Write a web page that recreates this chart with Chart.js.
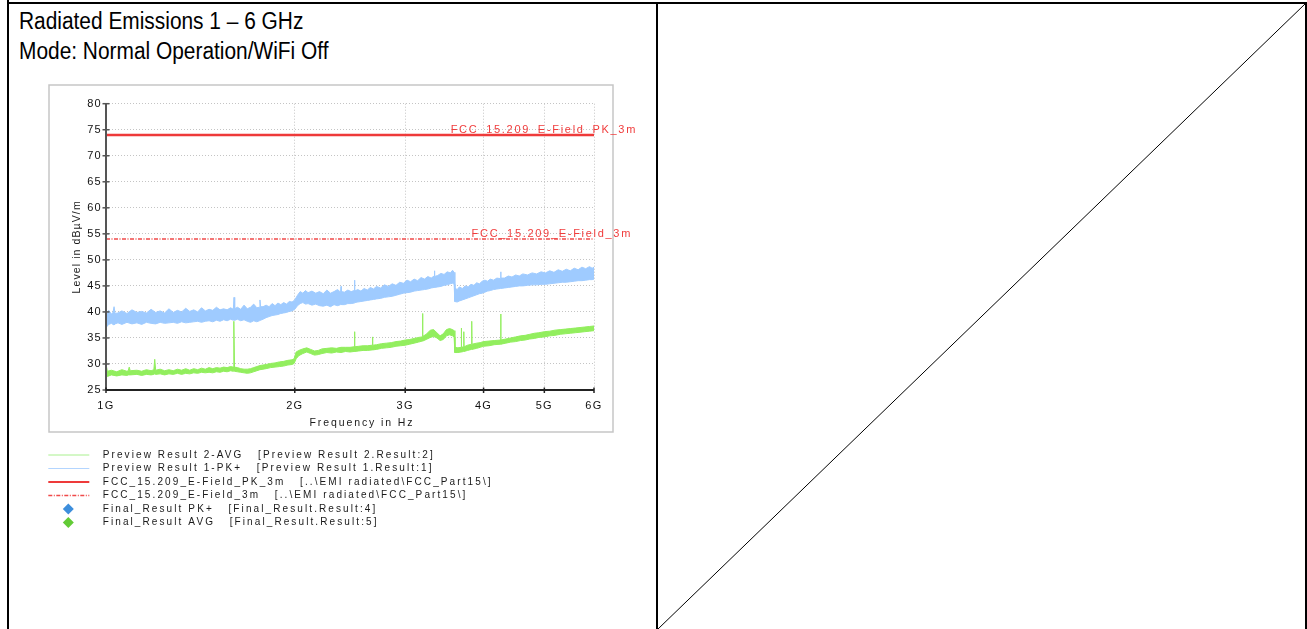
<!DOCTYPE html>
<html>
<head>
<meta charset="utf-8">
<title>Radiated Emissions 1 – 6 GHz</title>
<script src="https://cdn.jsdelivr.net/npm/chart.js@4.4.1/dist/chart.umd.min.js"></script>
<style>
  html, body { margin: 0; padding: 0; background: #fff; width: 1307px; height: 629px; overflow: hidden; }
  .rule { position: absolute; background: #000; }
  #title {
    position: absolute; left: 19px; top: 6px; color: #000; white-space: nowrap;
    font: 23px/30px "Liberation Sans", Arial, sans-serif;
    transform: scaleX(0.908); transform-origin: 0 0;
  }
  #plot { position: absolute; left: 40px; top: 80px; }
  #diag { position: absolute; left: 0; top: 0; }
</style>
</head>
<body>
<!-- page frame: two cells side by side -->
<div class="rule" style="left:7px;top:2px;width:1300px;height:2px"></div>
<div class="rule" style="left:7px;top:0;width:2px;height:629px"></div>
<div class="rule" style="left:656px;top:2px;width:2px;height:627px"></div>
<div class="rule" style="left:1305px;top:2px;width:2px;height:627px"></div>
<svg id="diag" width="1307" height="629"><line x1="658" y1="629" x2="1305" y2="4" stroke="#000" stroke-width="1"/></svg>

<div id="title">Radiated Emissions 1 – 6 GHz<br>Mode: Normal Operation/WiFi Off</div>
<canvas id="plot" width="610" height="460"></canvas>

<script>
// Frequency axis (MHz) ticks and labels
const xTickValues = [1000, 2000, 3000, 4000, 5000, 6000];
const xTickLabels = ['1G', '2G', '3G', '4G', '5G', '6G'];
const yMin = 25, yMax = 80, yStep = 2.5;
const xTitle = 'Frequency in Hz';
const yTitle = 'Level in dBµV/m';

// Preview Result 1-PK+ : [MHz, lower edge, upper edge] in dBµV/m
const pkTrace = [
  [1000,37.0,39.2],[1010,37.6,40.3],[1020,37.8,39.6],[1026,37.6,39.9],[1030,37.5,41.0],[1034,37.7,39.7],
  [1045,37.9,39.8],[1060,37.6,40.2],[1080,38.0,39.7],[1100,37.7,40.4],[1120,37.9,39.9],[1140,37.6,40.1],
  [1160,38.0,39.8],[1180,37.8,40.5],[1200,37.7,39.9],[1220,38.0,40.2],[1240,37.8,39.8],[1260,37.9,40.6],
  [1280,38.0,39.9],[1300,37.8,40.3],[1320,38.1,40.0],[1340,37.9,40.7],[1360,38.0,40.1],[1380,38.1,40.4],
  [1400,38.2,40.0],[1420,38.0,40.8],[1440,38.2,40.2],[1460,38.3,40.5],[1480,38.1,40.3],[1500,38.4,40.9],
  [1520,38.2,40.4],[1540,38.5,40.6],[1560,38.3,40.4],[1580,38.6,40.8],[1596,38.4,40.5],[1600,38.5,42.8],
  [1604,38.4,40.6],[1620,38.6,40.9],[1640,38.3,40.5],[1660,38.5,41.3],[1680,38.2,40.6],[1700,38.0,40.9],
  [1720,38.3,41.5],[1740,38.1,40.8],[1756,38.3,40.9],[1760,38.4,42.3],[1764,38.4,41.0],[1780,38.6,41.0],
  [1800,38.9,41.3],[1820,39.1,41.0],[1840,39.3,41.6],[1860,39.4,41.2],[1880,39.5,41.7],[1900,39.7,41.4],
  [1920,39.8,41.8],[1940,39.9,41.5],[1960,40.1,42.0],[1980,40.2,41.9],[2000,40.5,42.3],[2020,41.2,43.2],
  [2040,41.6,43.9],[2060,41.8,43.6],[2080,41.5,44.1],[2100,41.6,43.7],[2130,41.3,44.0],[2160,41.5,43.6],
  [2190,41.2,43.9],[2220,41.1,43.5],[2250,41.3,44.2],[2280,41.0,43.6],[2310,41.4,43.9],[2340,41.2,44.3],
  [2366,41.4,43.8],[2370,41.5,44.9],[2374,41.4,43.9],[2400,41.4,43.8],[2430,41.6,44.2],[2460,41.6,43.9],
  [2486,41.7,44.1],[2490,41.8,46.1],[2494,41.8,44.0],[2520,41.9,44.3],[2550,42.0,44.0],[2580,42.1,44.5],
  [2610,42.2,44.2],[2640,42.3,44.7],[2670,42.4,44.4],[2700,42.5,44.9],[2740,42.6,44.6],[2780,42.8,45.2],
  [2820,42.9,44.9],[2860,43.0,45.4],[2900,43.2,45.1],[2940,43.4,45.7],[2980,43.6,45.5],[3020,43.7,46.1],
  [3060,43.8,45.8],[3100,44.0,46.3],[3140,44.1,46.0],[3180,44.2,46.6],[3220,44.3,46.3],[3260,44.4,46.8],
  [3300,44.6,46.5],[3336,44.7,46.9],[3340,44.7,47.9],[3344,44.7,46.8],[3380,44.8,47.0],[3420,44.9,47.4],
  [3460,45.1,47.2],[3500,45.2,47.7],[3540,45.4,47.5],[3570,45.5,48.0],[3590,45.3,47.6],[3600,42.0,44.6],
  [3630,41.9,44.3],[3660,42.1,44.8],[3700,42.3,44.5],[3740,42.5,45.0],[3780,42.7,44.8],[3820,42.9,45.3],
  [3860,43.1,45.1],[3900,43.3,45.6],[3940,43.5,45.4],[3980,43.6,45.9],[4020,43.8,46.1],[4060,44.0,45.9],
  [4100,44.1,46.3],[4150,44.3,46.1],[4200,44.4,46.5],[4256,44.5,46.4],[4260,44.5,47.7],[4264,44.5,46.5],
  [4320,44.6,46.5],[4380,44.7,46.9],[4440,44.8,46.7],[4500,44.9,47.1],[4560,45.0,46.9],[4620,45.0,47.3],
  [4700,45.1,47.1],[4780,45.2,47.5],[4860,45.2,47.3],[4940,45.3,47.7],[5020,45.3,47.5],[5100,45.4,47.9],
  [5180,45.5,47.6],[5260,45.6,48.1],[5340,45.7,47.8],[5420,45.7,48.2],[5500,45.8,47.9],[5580,45.9,48.4],
  [5660,46.0,48.1],[5740,46.0,48.6],[5820,46.1,48.3],[5900,46.2,48.7],[5960,46.2,48.4],[6000,46.3,48.6]
];

// Preview Result 2-AVG : [MHz, lower edge, upper edge] in dBµV/m
const avgTrace = [
  [1000,27.8,30.0],[1005,27.6,28.6],[1020,27.9,28.8],[1040,27.7,28.5],[1060,27.9,28.9],[1080,27.8,28.6],
  [1085,27.9,28.7],[1089,27.9,29.4],[1093,27.9,28.7],[1120,28.0,28.8],[1140,27.8,28.6],[1160,28.0,28.9],
  [1180,27.9,28.7],[1192,28.0,28.9],[1196,28.1,30.9],[1200,28.0,28.8],[1220,28.1,29.0],[1240,27.9,28.7],
  [1260,28.1,28.9],[1280,28.0,28.7],[1300,28.2,29.0],[1320,28.0,28.8],[1340,28.2,29.1],[1360,28.1,28.8],
  [1380,28.3,29.1],[1400,28.2,28.9],[1420,28.4,29.2],[1440,28.3,29.0],[1460,28.4,29.3],[1480,28.3,29.1],
  [1500,28.5,29.3],[1520,28.4,29.2],[1540,28.6,29.4],[1560,28.5,29.3],[1580,28.7,29.5],[1595,28.6,29.4],
  [1599,28.7,38.2],[1603,28.6,29.4],[1620,28.5,29.3],[1640,28.4,29.1],[1660,28.3,29.0],[1680,28.2,29.0],
  [1700,28.3,29.1],[1720,28.5,29.3],[1740,28.7,29.5],[1760,28.9,29.7],[1780,29.0,29.8],[1800,29.1,29.9],
  [1830,29.3,30.1],[1860,29.4,30.2],[1890,29.5,30.4],[1920,29.6,30.5],[1950,29.8,30.7],[1980,29.9,30.8],
  [1995,30.1,31.0],[2010,31.0,32.3],[2030,31.6,32.6],[2060,32.0,32.9],[2090,32.3,33.1],[2120,32.0,32.8],
  [2150,31.7,32.5],[2180,31.8,32.6],[2210,32.0,32.9],[2250,32.2,33.0],[2290,32.1,33.1],[2330,32.3,33.0],
  [2370,32.2,33.2],[2410,32.4,33.2],[2450,32.3,33.2],[2486,32.4,33.3],[2490,32.5,36.2],[2494,32.4,33.3],
  [2530,32.5,33.4],[2570,32.6,33.5],[2610,32.6,33.5],[2656,32.7,33.6],[2660,32.8,35.2],[2664,32.7,33.6],
  [2700,32.8,33.7],[2750,33.0,33.9],[2800,33.1,34.0],[2850,33.2,34.1],[2900,33.4,34.3],[2950,33.5,34.4],
  [3000,33.6,34.6],[3050,33.8,34.7],[3100,34.0,34.9],[3150,34.2,35.1],[3193,34.4,35.2],[3197,34.5,39.7],
  [3201,34.4,35.3],[3240,34.7,35.7],[3290,35.1,36.5],[3330,35.3,36.6],[3370,35.0,36.0],[3410,34.5,35.4],
  [3450,34.7,35.8],[3490,35.4,36.6],[3530,35.6,36.8],[3570,35.4,36.6],[3590,35.2,36.4],[3600,32.2,33.2],
  [3640,32.2,33.1],[3682,32.3,33.2],[3686,32.4,36.9],[3690,32.3,33.2],[3716,32.4,33.3],[3720,32.5,36.2],
  [3724,32.4,33.3],[3770,32.6,33.6],[3826,32.8,33.8],[3830,32.9,38.2],[3834,32.8,33.8],[3900,33.0,34.0],
  [3950,33.2,34.1],[4000,33.4,34.3],[4080,33.5,34.4],[4160,33.7,34.5],[4256,33.8,34.6],[4260,33.9,39.6],
  [4264,33.8,34.6],[4340,34.0,34.8],[4420,34.2,35.0],[4500,34.3,35.2],[4580,34.5,35.4],[4660,34.6,35.5],
  [4740,34.8,35.7],[4820,34.9,35.9],[4900,35.1,36.0],[5000,35.2,36.2],[5100,35.4,36.3],[5200,35.5,36.5],
  [5300,35.7,36.6],[5400,35.8,36.7],[5500,35.9,36.8],[5600,36.0,36.9],[5700,36.1,37.0],[5800,36.2,37.1],
  [5900,36.3,37.2],[6000,36.4,37.3]
];

// Limit lines (MHz, dBµV/m)
const limitFreq = [1000, 6000];
const limitPk = [74, 74];
const limitAvg = [54, 54];

const FONT = "'Liberation Sans', Arial, sans-serif";
const AVG_COLOR = '#92ee5e';
const PK_COLOR = '#9fcbff';
const RED = '#ee3a3a';

const edge = (rows, k) => rows.map(r => ({ x: r[0], y: r[k] }));
const line = (ys) => limitFreq.map((f, i) => ({ x: f, y: ys[i] }));

const datasets = [
  { label: 'Preview Result 2-AVG   [Preview Result 2.Result:2]', data: edge(avgTrace, 2),
    borderColor: AVG_COLOR, backgroundColor: AVG_COLOR, borderWidth: 1, fill: '+1',
    legendKind: 'line', legendColor: '#a9f08e', legendWidth: 1 },
  { label: 'avg-low', data: edge(avgTrace, 1), borderColor: AVG_COLOR, borderWidth: 1, fill: false },
  { label: 'Preview Result 1-PK+   [Preview Result 1.Result:1]', data: edge(pkTrace, 2),
    borderColor: PK_COLOR, backgroundColor: PK_COLOR, borderWidth: 1, fill: '+1',
    legendKind: 'line', legendColor: '#b3d5ff', legendWidth: 1 },
  { label: 'pk-low', data: edge(pkTrace, 1), borderColor: PK_COLOR, borderWidth: 1, fill: false },
  { label: 'FCC_15.209_E-Field_PK_3m   [..\\EMI radiated\\FCC_Part15\\]', data: line(limitPk),
    borderColor: RED, borderWidth: 2.5, fill: false,
    legendKind: 'line', legendColor: RED, legendWidth: 2.2,
    limitText: 'FCC_15.209_E-Field_PK_3m', limitEnd: 43 },
  { label: 'FCC_15.209_E-Field_3m   [..\\EMI radiated\\FCC_Part15\\]', data: line(limitAvg),
    borderColor: '#f04a4a', borderWidth: 1.5, borderDash: [4, 1.5, 1, 1.5], fill: false,
    legendKind: 'line', legendColor: '#f04a4a', legendWidth: 1.3, legendDash: [4, 1.5, 1, 1.5],
    limitText: 'FCC_15.209_E-Field_3m', limitEnd: 38 },
  { label: 'Final_Result PK+   [Final_Result.Result:4]', data: [], type: 'scatter',
    pointStyle: 'rectRot', backgroundColor: '#3d8edc', legendKind: 'diamond' },
  { label: 'Final_Result AVG   [Final_Result.Result:5]', data: [], type: 'scatter',
    pointStyle: 'rectRot', backgroundColor: '#62cb36', legendKind: 'diamond' }
];

const decor = {
  id: 'decor',
  beforeDraw(chart) {
    const c = chart.ctx;
    c.save();
    c.strokeStyle = '#c6c6c6';
    c.lineWidth = 1.5;
    c.strokeRect(9, 5, 564, 347);
    c.restore();
    c.letterSpacing = '1.3px';
  },
  afterDraw(chart) {
    const c = chart.ctx, a = chart.chartArea, xs = chart.scales.x, ys = chart.scales.y;
    c.save();
    // value axis with ticks crossing it
    c.strokeStyle = '#555';
    c.lineWidth = 2;
    c.beginPath(); c.moveTo(a.left, a.top); c.lineTo(a.left, a.bottom); c.stroke();
    c.lineWidth = 1.5;
    ys.ticks.forEach(t => {
      const y = ys.getPixelForValue(t.value);
      c.beginPath(); c.moveTo(a.left - 3.5, y); c.lineTo(a.left + 3.5, y); c.stroke();
    });
    // frequency axis
    c.strokeStyle = '#222';
    c.lineWidth = 2;
    c.beginPath(); c.moveTo(a.left, a.bottom); c.lineTo(a.right, a.bottom); c.stroke();
    c.lineWidth = 1.5;
    xs.ticks.forEach(t => {
      const x = xs.getPixelForValue(t.value);
      c.beginPath(); c.moveTo(x, a.bottom - 2.5); c.lineTo(x, a.bottom + 3); c.stroke();
    });

    // axis titles
    c.fillStyle = '#1a1a1a';
    c.font = `10.5px ${FONT}`;
    c.textAlign = 'center';
    c.textBaseline = 'middle';
    c.letterSpacing = '1.9px';
    c.fillText(xTitle, (a.left + a.right) / 2 + 12, a.bottom + 33.5);
    c.save();
    c.translate(a.left - 29, (a.top + a.bottom) / 2);
    c.rotate(-Math.PI / 2);
    c.letterSpacing = '1.1px';
    c.fillText(yTitle, 0, 0);
    c.restore();

    // limit line captions
    c.font = `11px ${FONT}`;
    c.letterSpacing = '1.7px';
    c.textAlign = 'right';
    c.textBaseline = 'alphabetic';
    chart.data.datasets.forEach(ds => {
      if (!ds.limitText) return;
      const y = ys.getPixelForValue(ds.data[ds.data.length - 1].y);
      c.fillStyle = '#f03c3c';
      c.fillText(ds.limitText, a.right + ds.limitEnd, y - 2.3);
    });

    // legend list below the plot frame
    c.font = `10px ${FONT}`;
    c.letterSpacing = '2.1px';
    c.textAlign = 'left';
    c.textBaseline = 'middle';
    let row = 0;
    chart.data.datasets.forEach(ds => {
      if (!ds.legendKind) return;
      const y = 375 + row * 13.5;
      if (ds.legendKind === 'line') {
        c.save();
        c.strokeStyle = ds.legendColor;
        c.lineWidth = ds.legendWidth;
        c.setLineDash(ds.legendDash || []);
        c.beginPath(); c.moveTo(8.3, y); c.lineTo(49.3, y); c.stroke();
        c.restore();
      } else {
        c.save();
        c.fillStyle = ds.backgroundColor;
        c.beginPath();
        c.moveTo(28.3, y - 5.5); c.lineTo(33.8, y); c.lineTo(28.3, y + 5.5); c.lineTo(22.8, y);
        c.closePath(); c.fill();
        c.restore();
      }
      c.fillStyle = '#1a1a1a';
      c.fillText(ds.label, 62.7, y);
      row++;
    });
    c.restore();
    c.letterSpacing = '0px';
  }
};

new Chart(document.getElementById('plot'), {
  type: 'line',
  data: { datasets },
  plugins: [decor],
  options: {
    responsive: false,
    animation: false,
    devicePixelRatio: 1,
    layout: { padding: { left: 0, right: 56, top: 23.7, bottom: 108 } },
    elements: { point: { radius: 0, hoverRadius: 0 }, line: { tension: 0 } },
    plugins: { legend: { display: false }, tooltip: { enabled: false } },
    events: [],
    scales: {
      x: {
        type: 'logarithmic', min: xTickValues[0], max: xTickValues[xTickValues.length - 1],
        afterBuildTicks: s => { s.ticks = xTickValues.map(v => ({ value: v })); },
        afterFit: s => { s.height = 42; },
        ticks: {
          autoSkip: false, maxRotation: 0, padding: 9, color: '#111',
          font: { family: FONT, size: 11 },
          callback: v => { const i = xTickValues.indexOf(v); return i >= 0 ? xTickLabels[i] : ''; }
        },
        grid: { color: '#c4c4c4', lineWidth: 1, drawTicks: false },
        border: { display: false, dash: [1, 2] }
      },
      y: {
        type: 'linear', min: yMin, max: yMax,
        afterFit: s => { s.width = 66; },
        ticks: {
          stepSize: yStep, padding: 4, color: '#111',
          font: { family: FONT, size: 11 },
          callback: v => (v % 5 === 0 ? String(v) : '')
        },
        grid: { color: '#c4c4c4', lineWidth: 1, drawTicks: false },
        border: { display: false, dash: [1, 2] }
      }
    }
  }
});
</script>
</body>
</html>
